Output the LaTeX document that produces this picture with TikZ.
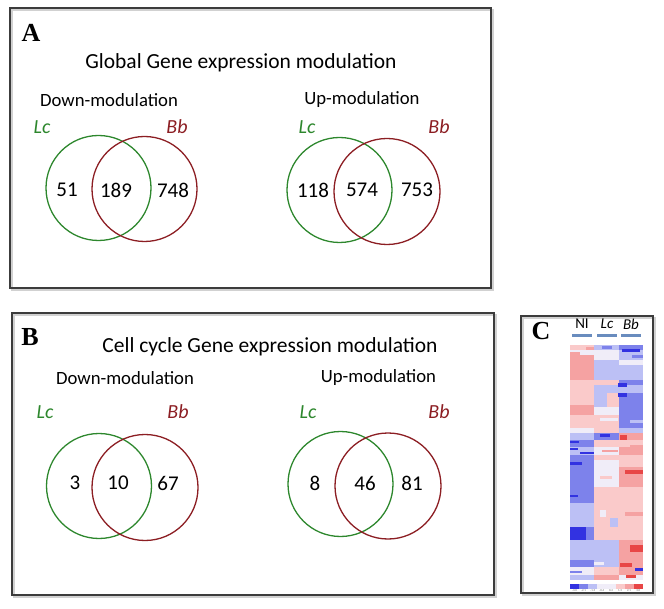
\documentclass[tikz,border=0pt]{standalone}
\usepackage{fontspec}
\setmainfont{Carlito}
\newfontfamily\panelfont{Liberation Serif}
\definecolor{vgreen}{RGB}{45,135,45}
\definecolor{vred}{RGB}{140,30,35}
\definecolor{boxgray}{RGB}{60,60,60}
\definecolor{hB3}{RGB}{50,50,225}
\definecolor{hB2}{RGB}{125,130,235}
\definecolor{hB1}{RGB}{188,192,245}
\definecolor{hW}{RGB}{240,237,248}
\definecolor{hR1}{RGB}{250,202,202}
\definecolor{hR2}{RGB}{245,162,162}
\definecolor{hR3}{RGB}{232,70,70}
\definecolor{barblue}{RGB}{105,140,190}
\begin{document}
\begin{tikzpicture}[x=1pt,y=-1pt,
  panelbox/.style={draw=boxgray,line width=1.4pt},
  shadowbox/.style={draw=black!18,line width=2pt},
  title/.style={font=\fontsize{21.5}{26}\selectfont,inner sep=0pt},
  sub/.style={font=\fontsize{18.7}{22}\selectfont,inner sep=0pt},
  num/.style={font=\fontsize{21}{25}\selectfont,inner sep=0pt},
  lcl/.style={font=\fontsize{20}{24}\selectfont\itshape,text=vgreen,inner sep=0pt},
  bbl/.style={font=\fontsize{20}{24}\selectfont\itshape,text=vred,inner sep=0pt},
  plabel/.style={font=\fontsize{26}{30}\selectfont\panelfont\bfseries,inner sep=0pt},
  gcirc/.style={draw=vgreen,line width=1.3pt},
  rcirc/.style={draw=vred,line width=1.3pt},
  hlab/.style={font=\fontsize{15}{18}\selectfont,inner sep=0pt}]
\useasboundingbox (0,0) rectangle (664,609);
% panel boxes with light shadow
\draw[shadowbox] (12,10) rectangle (493,290);
\draw[panelbox] (10,8) rectangle (491,288);
\draw[shadowbox] (14,315) rectangle (496,597);
\draw[panelbox] (12,313) rectangle (494,595);
\draw[shadowbox] (523,318) rectangle (655,595);
\draw[panelbox] (521,316) rectangle (653,593);

% ---------- Panel A ----------
\node[plabel] (pA) at (31,33) {A};
\node[title] (tA) at (241,63) {Global Gene expression modulation};
\node[sub] (dA) at (109,100) {Down-modulation};
\node[sub] (uA) at (362,100) {Up-modulation};
\node[lcl] (lcA1) at (42,127) {Lc};
\node[bbl] (bbA1) at (177,127) {Bb};
\node[lcl] (lcA2) at (307,127) {Lc};
\node[bbl] (bbA2) at (439,127) {Bb};
\draw[gcirc] (98.5,188) circle (52.5);
\draw[rcirc] (144.5,189) circle (52.5);
\draw[gcirc] (339.5,190) circle (52.5);
\draw[rcirc] (387,191.5) circle (53);
\node[num] (nA1) at (67,190) {51};
\node[num] (nA2) at (116,190) {189};
\node[num] (nA3) at (173,190) {748};
\node[num] (nA4) at (313,190) {118};
\node[num] (nA5) at (362,190) {574};
\node[num] (nA6) at (417,190) {753};

% ---------- Panel B ----------
\node[plabel] (pB) at (30,337) {B};
\node[title] (tB) at (270,347) {Cell cycle Gene expression modulation};
\node[sub] (dB) at (125,378) {Down-modulation};
\node[sub] (uB) at (378.5,378) {Up-modulation};
\node[lcl] (lcB1) at (45,412) {Lc};
\node[bbl] (bbB1) at (178,412) {Bb};
\node[lcl] (lcB2) at (308,412) {Lc};
\node[bbl] (bbB2) at (439,412) {Bb};
\draw[gcirc] (99,486) circle (52.5);
\draw[rcirc] (145,487.5) circle (53);
\draw[gcirc] (340.5,484) circle (52.5);
\draw[rcirc] (388,486) circle (53);
\node[num] (nB1) at (75,483) {3};
\node[num] (nB2) at (118,483) {10};
\node[num] (nB3) at (168,483) {67};
\node[num] (nB4) at (315,483) {8};
\node[num] (nB5) at (365,483) {46};
\node[num] (nB6) at (412,483) {81};

% ---------- Panel C ----------
\node[plabel] (pC) at (541,331) {C};
\node[hlab] (hNI) at (582,324) {NI};
\node[hlab,font=\fontsize{15}{18}\selectfont\itshape] (hLc) at (607,324) {Lc};
\node[hlab,font=\fontsize{15}{18}\selectfont\itshape] (hBb) at (631,324) {Bb};
\draw[barblue,line width=3pt] (572,335.5) -- (592,335.5);
\draw[barblue,line width=3pt] (597,335.5) -- (617,335.5);
\draw[barblue,line width=3pt] (621,335.5) -- (641,335.5);

% heatmap bands: y1/y2/NI/Lc/Bb
\foreach \ya/\yb/\ca/\cb/\cc in {
 345/350/hR1/hB1/hB2, 350/355/hW/hW/hB1, 355/360/hR2/hW/hB1,
 360/365/hR2/hB1/hW, 365/380/hR2/hB1/hB1, 380/385/hR1/hR1/hB2,
 385/393/hR1/hB1/hB1, 393/407/hR1/hR1/hB2, 407/415/hR2/hW/hB2,
 415/428/hR1/hR1/hB2, 428/433/hW/hR1/hB1, 433/440/hB1/hB2/hR2,
 440/447/hB2/hR1/hR1, 447/455/hB1/hW/hR2, 455/460/hB2/hR1/hR1,
 460/467/hB2/hW/hR1, 467/487/hB2/hW/hR2, 487/503/hB2/hR1/hR1,
 503/510/hB1/hR1/hR1, 510/527/hB1/hR1/hR1, 527/540/hB2/hR1/hR1,
 540/560/hB1/hB1/hR2, 560/567/hB2/hB1/hR2, 567/575/hW/hR1/hR2,
 575/580/hB1/hR2/hW} {
  \fill[\ca] (570,\ya) rectangle (594.3,\yb);
  \fill[\cb] (594.3,\ya) rectangle (618.6,\yb);
  \fill[\cc] (618.6,\ya) rectangle (643,\yb);
}
% accents: x1/y1/x2/y2/colour
\foreach \xa/\ya/\xb/\yb/\cl in {
 622/349/640/352/hB3, 570/352/580/355/hR2, 586/347/594/350/hR2,
 602/346/612/349/hB2, 632/355/643/358/hB2,
 618/383/627/387/hB3, 618/393/627/397/hB3, 594/393/607/407/hB1,
 570/405/594/409/hR2, 600/418/618/421/hW, 630/420/643/423/hB1,
 620/435/627/440/hR3, 600/434/610/437/hB3, 570/441/579/443/hB3,
 570/448/578/450/hB3, 580/452/594/454/hB3, 602/450/618/452/hR2,
 630/445/643/448/hR2, 570/462/582/465/hB3, 625/470/643/474/hR3,
 600/476/612/479/hR1, 570/495/578/497/hB3, 600/510/606/517/hW,
 610/518/618/527/hB1, 570/527/586/540/hB3, 625/512/643/516/hR2,
 594/532/618/535/hR1, 630/545/643/552/hR3, 594/562/604/565/hW,
 635/568/643/571/hB3, 620/563/632/567/hR3, 605/575/615/578/hR2,
 570/571/582/573/hB2, 626/575/636/578/hR3}{
  \fill[\cl] (\xa,\ya) rectangle (\xb,\yb);
}
% colour scale
\foreach \i/\cl in {0/hB3,1/hB2,2/hB1,3/hW,4/hW,5/hR1,6/hR2,7/hR3}{
  \fill[\cl] (570+\i*9.1,584) rectangle (570+\i*9.1+9.1,588.5);
}
\foreach \i/\t in {0/-3.0,1/-2.1,2/-1.3,3/-0.4,4/0.4,5/1.3,6/2.1,7/3.0}{
  \node[font=\fontsize{3}{3}\selectfont,text=black!60,inner sep=0pt] (sc\i) at (574.5+\i*9.1,591) {\t};
}
\end{tikzpicture}
\end{document}
